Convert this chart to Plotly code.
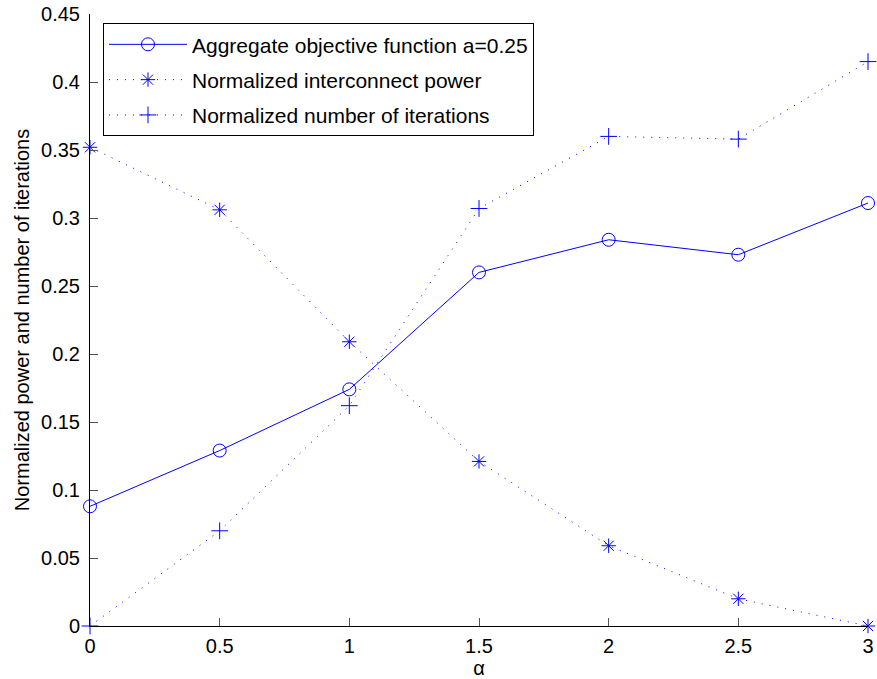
import plotly.graph_objects as go

alpha = [0, 0.5, 1, 1.5, 2, 2.5, 3]
aggregate = [0.088, 0.129, 0.174, 0.260, 0.284, 0.273, 0.311]
interconnect_power = [0.352, 0.306, 0.209, 0.121, 0.059, 0.020, 0.0]
iterations = [0.0, 0.070, 0.162, 0.307, 0.360, 0.358, 0.415]

x_ticks = [0, 0.5, 1, 1.5, 2, 2.5, 3]
x_ticktext = ["0", "0.5", "1", "1.5", "2", "2.5", "3"]
y_ticks = [0, 0.05, 0.1, 0.15, 0.2, 0.25, 0.3, 0.35, 0.4, 0.45]
y_ticktext = ["0", "0.05", "0.1", "0.15", "0.2", "0.25", "0.3", "0.35", "0.4", "0.45"]

blue = "#0000ff"
dotted = "1px,7px"
fig = go.Figure()
fig.add_trace(go.Scatter(
    x=alpha, y=aggregate, mode="lines+markers",
    name="Aggregate objective function a=0.25", legendgroup="a",
    line=dict(color=blue, width=1),
    marker=dict(symbol="circle-open", size=13, color=blue, line=dict(width=1, color=blue)),
    cliponaxis=False))
fig.add_trace(go.Scatter(
    x=alpha, y=interconnect_power, mode="lines+markers",
    name="Normalized interconnect power", legendgroup="b",
    line=dict(color=blue, width=1, dash=dotted),
    marker=dict(symbol="asterisk-open", size=12, color=blue, line=dict(width=1, color=blue)),
    cliponaxis=False))
fig.add_trace(go.Scatter(
    x=alpha, y=iterations, mode="lines+markers",
    name="Normalized number of iterations", legendgroup="c",
    line=dict(color=blue, width=1, dash=dotted),
    marker=dict(symbol="cross-thin-open", size=12, color=blue, line=dict(width=1, color=blue)),
    cliponaxis=False))

font_family = "Liberation Sans, Arial, sans-serif"
fig.update_layout(
    width=877, height=679,
    margin=dict(l=90, r=9, t=14, b=53, autoexpand=False),
    paper_bgcolor="white", plot_bgcolor="white",
    font=dict(family=font_family, size=20, color="black"),
    showlegend=True,
    legend=dict(x=0.0167, y=0.985, xanchor="left", yanchor="top",
                bgcolor="white", bordercolor="black", borderwidth=1,
                font=dict(size=21, family=font_family), tracegroupgap=5,
                itemwidth=78),
    xaxis=dict(range=[0, 3], tickvals=x_ticks, ticktext=x_ticktext, automargin=False,
               showline=True, linecolor="black", linewidth=1, mirror=False,
               ticks="inside", ticklen=8, tickcolor="#555555", showgrid=False, zeroline=False,
               ticklabelstandoff=2,
               title=dict(text="α", standoff=0, font=dict(size=20))),
    yaxis=dict(range=[0, 0.45], tickvals=y_ticks, ticktext=y_ticktext, automargin=False,
               showline=True, linecolor="black", linewidth=1, mirror=False,
               ticks="inside", ticklen=8, tickcolor="#555555", showgrid=False, zeroline=False,
               ticklabelstandoff=5,
               title=dict(text="Normalized power and number of iterations", standoff=6, font=dict(size=20))),
)

fig.write_html("out.html", config={"displayModeBar": False},
               post_script="document.body.style.margin='0px';")
